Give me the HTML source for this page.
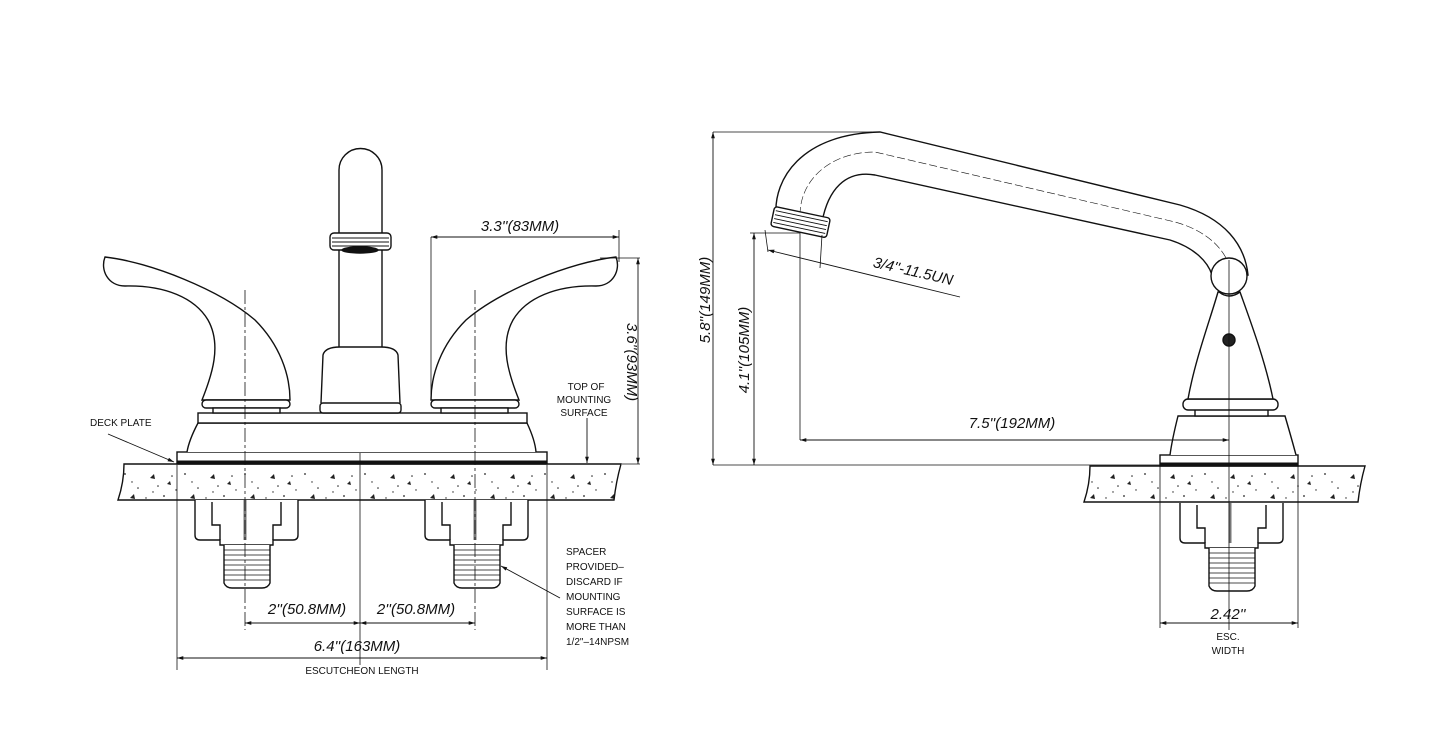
<!DOCTYPE html>
<html><head><meta charset="utf-8"><style>
html,body{margin:0;padding:0;background:#fff}
svg{display:block}
text{font-family:"Liberation Sans",sans-serif;fill:#111}
.d{font-style:italic;font-size:15px}
.s{font-size:10px}
</style></head><body>
<svg width="1445" height="744" viewBox="0 0 1445 744" xmlns="http://www.w3.org/2000/svg">
<defs>
<pattern id="sp" width="60" height="36" patternUnits="userSpaceOnUse">
<circle cx="5" cy="6" r="0.9" fill="#222"/><circle cx="18" cy="20" r="0.8" fill="#222"/><path d="M30 10l4 -4l1 5z" fill="#222"/>
<circle cx="44" cy="28" r="0.9" fill="#222"/><circle cx="52" cy="8" r="0.8" fill="#222"/><path d="M10 30l4 -4l1 5z" fill="#222"/>
<circle cx="26" cy="30" r="0.7" fill="#222"/><circle cx="38" cy="18" r="0.8" fill="#222"/><circle cx="56" cy="22" r="0.7" fill="#222"/>
<path d="M47 16l3 -3l1 4z" fill="#222"/><circle cx="12" cy="14" r="0.7" fill="#222"/><circle cx="33" cy="24" r="0.7" fill="#222"/>
</pattern>
<marker id="a" viewBox="0 0 10 10" refX="10" refY="5" markerWidth="7" markerHeight="7" orient="auto-start-reverse"><path d="M0 2L10 5L0 8z" fill="#111"/></marker>
</defs>
<g fill="none" stroke="#111" stroke-width="1.4">
<!-- LEFT VIEW slab -->
<path d="M124 464 L621 464 Q616 482 614 500 L118 500 Q124 482 124 464Z" fill="url(#sp)"/>
<!-- deck plate -->
<rect x="177" y="452" width="370" height="12" fill="#fff"/>
<line x1="177" y1="462" x2="547" y2="462" stroke-width="3"/>
<path d="M187 452 Q189 440 198 423 L527 423 Q535 440 536 452" fill="#fff"/>
<rect x="198" y="413" width="329" height="10" fill="#fff"/>
<!-- spout -->
<path d="M339 364 L339 170 A21.5 21.5 0 0 1 382 170 L382 364" fill="#fff"/>
<rect x="330" y="233" width="61" height="17" rx="4" fill="#fff"/>
<path d="M332 238H389M332 242H389M332 246H389" stroke-width="1"/>
<ellipse cx="360" cy="250" rx="18" ry="3" fill="#111"/>
<path d="M321 403 L323 355 Q325 347 340 347 L381 347 Q396 347 398 355 L400 403" fill="#fff"/>
<rect x="320" y="403" width="81" height="10" rx="3" fill="#fff"/>
<!-- left handle -->
<path d="M105 257 C150 262 220 290 255 320 C280 345 290 375 290 400 L202 400 C212 375 222 345 208 320 C195 298 165 285 125 286 C108 286 100 270 105 257Z" fill="#fff"/>
<rect x="202" y="400" width="88" height="8" rx="4" fill="#fff"/><rect x="213" y="408" width="67" height="5" fill="#fff"/>
<!-- right handle -->
<path d="M616 257 C571 262 501 290 466 320 C441 345 431 375 431 400 L519 400 C509 375 499 345 513 320 C526 298 556 285 596 286 C613 286 621 270 616 257Z" fill="#fff"/>
<rect x="431" y="400" width="88" height="8" rx="4" fill="#fff"/><rect x="441" y="408" width="67" height="5" fill="#fff"/>
<!-- nuts under -->
<g id="nut">
<path d="M195 500 L195 535 Q195 540 200 540 L220 540 L220 545 L273 545 L273 540 L293 540 Q298 540 298 535 L298 500" fill="#fff"/>
<path d="M212 502 L212 525 L220 525 L220 540 M281 502 L281 525 L273 525 L273 540"/>
<path d="M224 545 L224 583 Q226 588 232 588 L262 588 Q268 588 270 583 L270 545" fill="#fff"/>
<path d="M224 550H270M224 555H270M224 560H270M224 565H270M224 570H270M224 575H270M224 580H270" stroke-width="0.7"/>
<line x1="245" y1="500" x2="245" y2="540" stroke-width="3" stroke="#777"/>
</g>
<use href="#nut" x="230"/>
<!-- centerlines -->
<path d="M245 290V630M475 290V630" stroke-width="0.8" stroke-dasharray="14 3 3 3"/>
<path d="M360 453V665" stroke-width="0.8"/>
<!-- dims left -->
<path d="M177 465V670M547 465V670" stroke-width="0.8"/>
<line x1="245" y1="623" x2="360" y2="623" stroke-width="0.9" marker-start="url(#a)" marker-end="url(#a)"/>
<line x1="360" y1="623" x2="475" y2="623" stroke-width="0.9" marker-start="url(#a)" marker-end="url(#a)"/>
<line x1="177" y1="658" x2="547" y2="658" stroke-width="0.9" marker-start="url(#a)" marker-end="url(#a)"/>
<path d="M431 237V398M619 230V262M600 258H640M622 464H640" stroke-width="0.8"/>
<line x1="431" y1="237" x2="619" y2="237" stroke-width="0.9" marker-start="url(#a)" marker-end="url(#a)"/>
<line x1="638" y1="258" x2="638" y2="464" stroke-width="0.9" marker-start="url(#a)" marker-end="url(#a)"/>
<line x1="587" y1="418" x2="587" y2="463" stroke-width="0.9" marker-end="url(#a)"/>
<line x1="108" y1="434" x2="174" y2="462" stroke-width="0.9" marker-end="url(#a)"/>
<line x1="560" y1="598" x2="501" y2="566" stroke-width="0.9" marker-end="url(#a)"/>

<!-- RIGHT VIEW slab -->
<path d="M1090 466 L1365 466 Q1360 484 1358 502 L1084 502 Q1090 484 1090 466Z" fill="url(#sp)"/>
<rect x="1160" y="455" width="138" height="11" fill="#fff"/>
<line x1="1160" y1="464" x2="1298" y2="464" stroke-width="3"/>
<path d="M1170 455 Q1172 440 1178 416 L1285 416 Q1292 440 1296 455" fill="#fff"/>
<rect x="1195" y="409" width="73" height="7" fill="#fff"/>
<rect x="1183" y="399" width="95" height="11" rx="5" fill="#fff"/>
<!-- spout -->
<path d="M776 214 C774 180 800 134 880 132 L1180 205 C1225 218 1245 245 1248 275 L1212 275 C1208 262 1195 248 1170 240 L875 175 C845 170 828 190 822 222" fill="#fff"/>
<path d="M800 215 C800 180 830 152 875 152 L1175 222 C1212 232 1228 255 1230 270" stroke-width="0.6" stroke-dasharray="8 3"/>
<path d="M1188 399 C1195 360 1210 320 1218 292 L1240 292 C1250 320 1265 360 1273 399Z" fill="#fff"/>
<circle cx="1229" cy="276" r="18" fill="#fff"/>
<path d="M1219 292 Q1229 300 1240 292" />
<circle cx="1229" cy="340" r="6" fill="#222"/>
<g transform="rotate(12 800 222)">
<rect x="772" y="212" width="57" height="20" rx="3" fill="#fff"/>
<path d="M774 216H827M774 220H827M774 224H827M774 228H827" stroke-width="0.9"/>
</g>
<!-- nut right -->
<use href="#nut" x="985" y="3"/>
<path d="M1229 260V630" stroke-width="0.8"/>
<!-- right dims -->
<path d="M713 132H872M713 465H1160M750 233H800M800 232V440M1160 466V628M1298 466V628" stroke-width="0.8"/>
<line x1="713" y1="132" x2="713" y2="465" stroke-width="0.9" marker-start="url(#a)" marker-end="url(#a)"/>
<line x1="754" y1="233" x2="754" y2="465" stroke-width="0.9" marker-start="url(#a)" marker-end="url(#a)"/>
<line x1="800" y1="440" x2="1229" y2="440" stroke-width="0.9" marker-start="url(#a)" marker-end="url(#a)"/>
<line x1="1160" y1="623" x2="1298" y2="623" stroke-width="0.9" marker-start="url(#a)" marker-end="url(#a)"/>
<path d="M765 230L768 252M822 235L820 268" stroke-width="0.8"/>
<line x1="768" y1="250" x2="960" y2="297" stroke-width="0.9" marker-start="url(#a)"/>
</g>
<!-- text -->
<text class="d" x="520" y="231" text-anchor="middle">3.3''(83MM)</text>
<text class="d" transform="translate(627 362) rotate(90)" text-anchor="middle">3.6''(93MM)</text>
<text class="s" x="586" y="390" text-anchor="middle">TOP OF</text>
<text class="s" x="584" y="403" text-anchor="middle">MOUNTING</text>
<text class="s" x="584" y="416" text-anchor="middle">SURFACE</text>
<text class="s" x="90" y="426">DECK PLATE</text>
<text class="d" x="307" y="614" text-anchor="middle">2''(50.8MM)</text>
<text class="d" x="416" y="614" text-anchor="middle">2''(50.8MM)</text>
<text class="d" x="357" y="651" text-anchor="middle">6.4''(163MM)</text>
<text class="s" x="362" y="674" text-anchor="middle">ESCUTCHEON LENGTH</text>
<g class="s"><text x="566" y="555">SPACER</text><text x="566" y="570">PROVIDED–</text><text x="566" y="585">DISCARD IF</text><text x="566" y="600">MOUNTING</text><text x="566" y="615">SURFACE IS</text><text x="566" y="630">MORE THAN</text><text x="566" y="645">1/2"–14NPSM</text></g>
<text class="d" transform="translate(710 300) rotate(-90)" text-anchor="middle">5.8''(149MM)</text>
<text class="d" transform="translate(749 350) rotate(-90)" text-anchor="middle">4.1''(105MM)</text>
<text class="d" transform="translate(912 276) rotate(13)" text-anchor="middle">3/4''-11.5UN</text>
<text class="d" x="1012" y="428" text-anchor="middle">7.5''(192MM)</text>
<text class="d" x="1228" y="619" text-anchor="middle">2.42''</text>
<text class="s" x="1228" y="640" text-anchor="middle">ESC.</text>
<text class="s" x="1228" y="654" text-anchor="middle">WIDTH</text>
</svg>
</body></html>
